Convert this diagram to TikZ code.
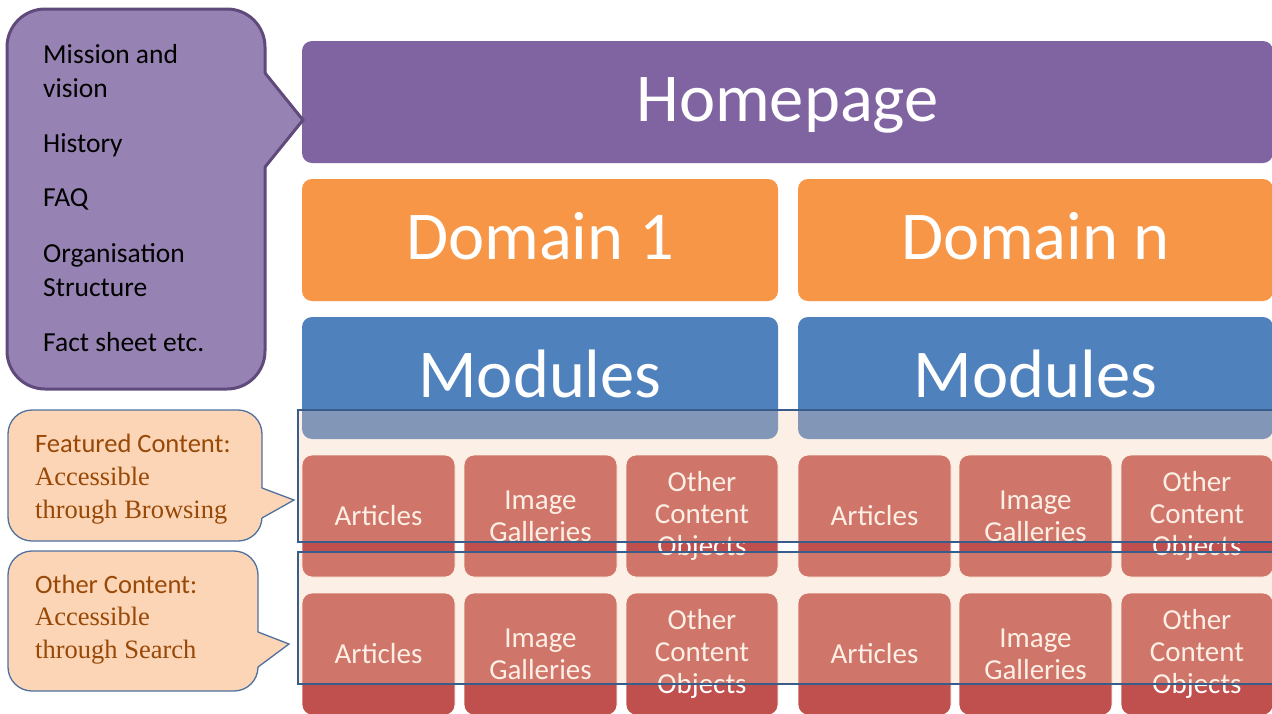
\documentclass[tikz,border=0pt]{standalone}
\usepackage{fontspec}
\setmainfont{Carlito}
\newfontfamily\timesf{Liberation Serif}
\definecolor{hpurple}{HTML}{8064A2}
\definecolor{dorange}{HTML}{F79646}
\definecolor{mblue}{HTML}{4F81BD}
\definecolor{cred}{HTML}{C0504D}
\definecolor{ovfill}{RGB}{248,204,170}
\definecolor{ovline}{HTML}{385D8A}
\definecolor{cpurple}{HTML}{9783B3}
\definecolor{cpurpleline}{HTML}{604A7B}
\definecolor{peach}{HTML}{FBD5B5}
\definecolor{peachline}{HTML}{50709F}
\definecolor{cbrown}{HTML}{984807}
\begin{document}
\begin{tikzpicture}[x=1pt,y=-1pt,
  bigbox/.style={rectangle, rounded corners=10pt, inner sep=0pt, minimum height=122pt,
    text=white, font=\fontsize{68.5}{80}\selectfont, text height=44pt, text depth=6pt},
  cbox/.style={rectangle, rounded corners=10pt, inner sep=0pt, minimum height=122pt,
    fill=cred, draw=white, line width=0.8pt, text=white, align=center,
    font=\fontsize{29}{32}\selectfont},
  ovl/.style={rectangle, inner sep=0pt, minimum width=992pt, minimum height=132pt,
    fill=ovfill, fill opacity=0.3, draw=ovline, draw opacity=1, line width=1.8pt},
  pcall/.style={rectangle, rounded corners=38pt, inner sep=0pt, fill=cpurple,
    draw=cpurpleline, line width=3pt},
  fcall/.style={rectangle, rounded corners=24pt, inner sep=0pt, fill=peach,
    draw=peachline, line width=1.3pt},
  ptxt/.style={anchor=base west, align=left, inner sep=0pt, text=black,
    font=\fontsize{27.5}{34}\selectfont},
  ftxt/.style={anchor=base west, align=left, inner sep=0pt, text=cbrown,
    font=\fontsize{26.5}{33}\selectfont}
]
\useasboundingbox (0,0) rectangle (1272,713);
\clip (0,0) rectangle (1272,713);
\fill[white] (0,0) rectangle (1272,713);

% main hierarchy
\node[bigbox, fill=hpurple, minimum width=971pt] (home) at (787.5,102) {Homepage};
\node[bigbox, fill=dorange, minimum width=476pt] (dom1) at (540,240) {Domain 1};
\node[bigbox, fill=dorange, minimum width=475pt] (domn) at (1035.5,240) {Domain n};
\node[bigbox, fill=mblue, minimum width=476pt] (mod1) at (540,378) {Modules};
\node[bigbox, fill=mblue, minimum width=475pt] (modn) at (1035.5,378) {Modules};

% content row 1
\node[cbox, minimum width=153pt] (a1) at (378.5,516) {Articles};
\node[cbox, minimum width=153pt] (g1) at (540.5,516) {Image\\Galleries};
\node[cbox, minimum width=152pt] (o1) at (702,516) {Other\\Content\\Objects};
\node[cbox, minimum width=153pt] (a2) at (874.5,516) {Articles};
\node[cbox, minimum width=153pt] (g2) at (1035.5,516) {Image\\Galleries};
\node[cbox, minimum width=152pt] (o2) at (1197,516) {Other\\Content\\Objects};
% content row 2
\node[cbox, minimum width=153pt] (a3) at (378.5,654) {Articles};
\node[cbox, minimum width=153pt] (g3) at (540.5,654) {Image\\Galleries};
\node[cbox, minimum width=152pt] (o3) at (702,654) {Other\\Content\\Objects};
\node[cbox, minimum width=153pt] (a4) at (874.5,654) {Articles};
\node[cbox, minimum width=153pt] (g4) at (1035.5,654) {Image\\Galleries};
\node[cbox, minimum width=152pt] (o4) at (1197,654) {Other\\Content\\Objects};

% overlay frames
\node[ovl] (feat) at (794,476) {};
\node[ovl] (other) at (794,618) {};

% purple callout
\node[pcall, minimum width=258pt, minimum height=380pt] (about) at (136,199) {};
\coordinate (pa) at (265,73);
\coordinate (pt) at (303,120);
\coordinate (pb) at (265,167);
\fill[cpurple] (260,73) -- (pa) -- (pt) -- (pb) -- (260,167) -- cycle;
\draw[cpurpleline, line width=3pt, line join=miter, line cap=round] (pa) -- (pt) -- (pb);
\node[ptxt] (abouttxt) at (43,351) {Mission and\\vision\\[21pt]History\\[20pt]FAQ\\[22pt]Organisation\\Structure\\[21pt]Fact sheet etc.};

% peach callout 1
\node[fcall, minimum width=254pt, minimum height=131pt] (fc) at (135,475.5) {};
\coordinate (fa) at (262,488);
\coordinate (ft) at (294,500);
\coordinate (fb) at (262,518);
\fill[peach] (258,488) -- (fa) -- (ft) -- (fb) -- (258,518) -- cycle;
\draw[peachline, line width=1.3pt, line join=miter, line cap=round] (fa) -- (ft) -- (fb);
\node[ftxt] (fctxt) at (35,518) {Featured Content:\\{\timesf Accessible}\\{\timesf through Browsing}};

% peach callout 2
\node[fcall, minimum width=250pt, minimum height=140pt] (oc) at (133,621) {};
\coordinate (oa) at (258,632);
\coordinate (ot) at (289,644);
\coordinate (ob) at (258,667);
\fill[peach] (254,632) -- (oa) -- (ot) -- (ob) -- (254,667) -- cycle;
\draw[peachline, line width=1.3pt, line join=miter, line cap=round] (oa) -- (ot) -- (ob);
\node[ftxt, font=\fontsize{26.5}{32.5}\selectfont] (octxt) at (35,658) {Other Content:\\{\timesf Accessible}\\{\timesf through Search}};
\end{tikzpicture}
\end{document}
